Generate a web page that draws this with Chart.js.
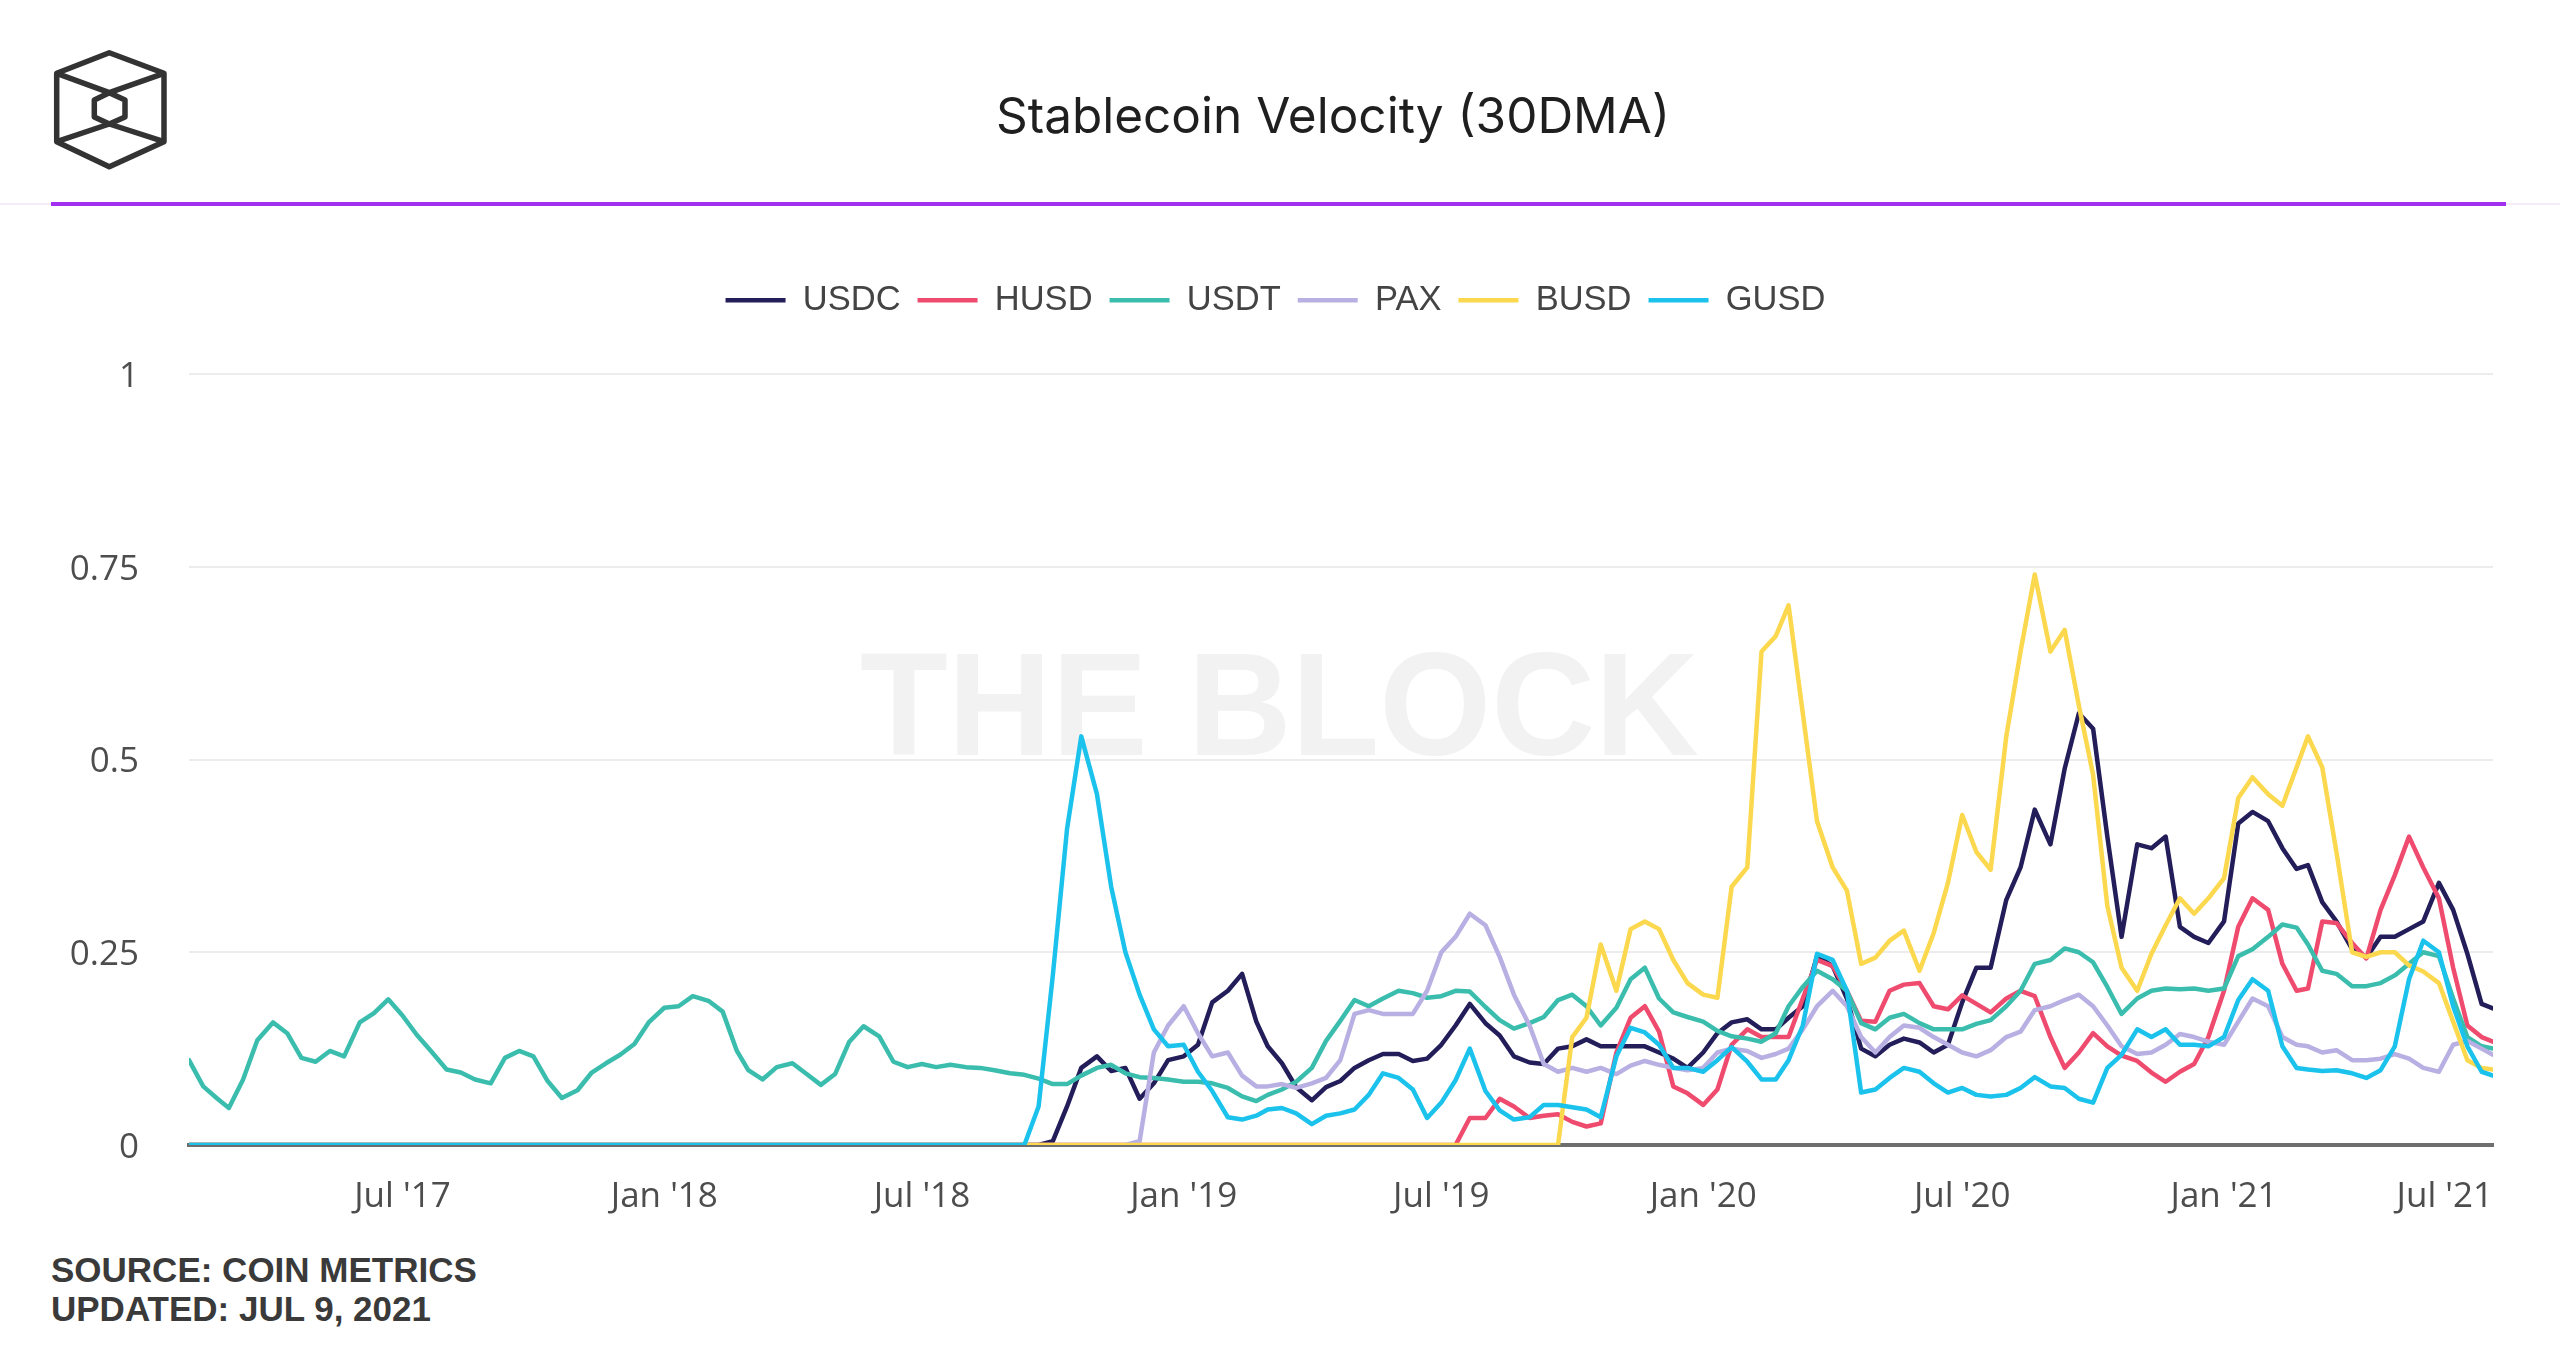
<!DOCTYPE html>
<html>
<head>
<meta charset="utf-8">
<script src="https://cdn.jsdelivr.net/npm/chart.js@4.4.1/dist/chart.umd.min.js"></script>
<style>
html,body{margin:0;padding:0;background:#fff;}
body{width:2560px;height:1345px;position:relative;overflow:hidden;}
#bg{position:absolute;left:0;top:0;}
#wrap{position:absolute;left:0;top:0;width:2560px;height:1345px;}
canvas{display:block;}
</style>
</head>
<body>
<svg id="bg" width="2560" height="1345" xmlns="http://www.w3.org/2000/svg">
  <g fill="none" stroke="#333" stroke-width="5.5" stroke-linejoin="round">
    <polygon points="109.3,52.7 164,73.3 164,141.7 109.3,166.7 56.7,141.7 56.7,73.3"/>
    <polyline points="56.7,73.3 109.3,92.7 164,73.3"/>
    <polyline points="56.7,141.7 109.3,124 164,141.7"/>
    <polygon points="109.3,92.7 125,100 125,117 109.3,124 94.3,117 94.3,100"/>
  </g>
  <text x="1333" y="133" text-anchor="middle" font-family="Inter, 'Noto Sans', sans-serif" font-size="49.5" fill="#1f1f1f">Stablecoin Velocity (30DMA)</text>
  <rect x="0" y="203" width="2560" height="2" fill="#f4ecf9"/>
  <rect x="51" y="202" width="2455" height="4" fill="#a330f0"/>
  <text x="860" y="755" font-family="'Liberation Sans', Arial, sans-serif" font-weight="bold" font-size="146" fill="#f2f2f2" textLength="839" lengthAdjust="spacingAndGlyphs">THE BLOCK</text>
  <text x="51" y="1282" font-family="'Liberation Sans', Arial, sans-serif" font-weight="bold" font-size="35" fill="#3a3a3a">SOURCE: COIN METRICS</text>
  <text x="51" y="1321" font-family="'Liberation Sans', Arial, sans-serif" font-weight="bold" font-size="35" fill="#3a3a3a">UPDATED: JUL 9, 2021</text>
</svg>
<div id="wrap"><canvas id="c" width="2560" height="1345" style="width:2560px;height:1345px"></canvas></div>
<script>
// ---- categories (x axis dates) ----
const dates = [
 '2017-02-01','2017-02-11','2017-02-21','2017-03-01','2017-03-11','2017-03-21','2017-04-01','2017-04-11','2017-04-21','2017-05-01','2017-05-11','2017-05-21',
 '2017-06-01','2017-06-11','2017-06-21','2017-07-01','2017-07-11','2017-07-21','2017-08-01','2017-08-11','2017-08-21','2017-09-01','2017-09-11','2017-09-21',
 '2017-10-01','2017-10-11','2017-10-21','2017-11-01','2017-11-11','2017-11-21','2017-12-01','2017-12-11','2017-12-21',
 '2018-01-01','2018-01-11','2018-01-21','2018-02-01','2018-02-11','2018-02-21','2018-03-01','2018-03-11','2018-03-21','2018-04-01','2018-04-11','2018-04-21',
 '2018-05-01','2018-05-11','2018-05-21','2018-06-01','2018-06-11','2018-06-21','2018-07-01','2018-07-11','2018-07-21','2018-08-01','2018-08-11','2018-08-21',
 '2018-09-01','2018-09-11','2018-09-21','2018-10-01','2018-10-11','2018-10-21','2018-11-01','2018-11-11','2018-11-21','2018-12-01','2018-12-11','2018-12-21',
 '2019-01-01','2019-01-11','2019-01-21','2019-02-01','2019-02-11','2019-02-21','2019-03-01','2019-03-11','2019-03-21','2019-04-01','2019-04-11','2019-04-21',
 '2019-05-01','2019-05-11','2019-05-21','2019-06-01','2019-06-11','2019-06-21','2019-07-01','2019-07-11','2019-07-21','2019-08-01','2019-08-11','2019-08-21',
 '2019-09-01','2019-09-11','2019-09-21','2019-10-01','2019-10-11','2019-10-21','2019-11-01','2019-11-11','2019-11-21','2019-12-01','2019-12-11','2019-12-21',
 '2020-01-01','2020-01-11','2020-01-21','2020-02-01','2020-02-11','2020-02-21','2020-03-01','2020-03-11','2020-03-21','2020-04-01','2020-04-11','2020-04-21',
 '2020-05-01','2020-05-11','2020-05-21','2020-06-01','2020-06-11','2020-06-21','2020-07-01','2020-07-11','2020-07-21','2020-08-01','2020-08-11','2020-08-21',
 '2020-09-01','2020-09-11','2020-09-21','2020-10-01','2020-10-11','2020-10-21','2020-11-01','2020-11-11','2020-11-21','2020-12-01','2020-12-11','2020-12-21',
 '2021-01-01','2021-01-11','2021-01-21','2021-02-01','2021-02-11','2021-02-21','2021-03-01','2021-03-11','2021-03-21','2021-04-01','2021-04-11','2021-04-21',
 '2021-05-01','2021-05-11','2021-05-21','2021-06-01','2021-06-11','2021-06-21','2021-07-01','2021-07-09'
];

// ---- series values (30DMA velocity) ----
const usdc = [
 0,0,0, 0,0,0, 0,0,0, 0,0,0, 0,0,0, 0,0,0, 0,0,0, 0,0,0, 0,0,0, 0,0,0, 0,0,0,
 0,0,0, 0,0,0, 0,0,0, 0,0,0, 0,0,0, 0,0,0, 0,0,0, 0,0,0, 0,0,0, 0.005,0.05,0.1, 0.115,0.096,0.1, 0.06,0.08,0.11,
 0.115,0.13,0.185, 0.2,0.222,0.16, 0.128,0.106,0.075, 0.058,0.075,0.083, 0.1,0.11,0.118, 0.118,0.109,0.112,
 0.13,0.155,0.183, 0.158,0.142,0.115, 0.107,0.105,0.125, 0.128,0.137,0.128, 0.128,0.128,0.128, 0.12,0.112,0.1,
 0.12,0.145,0.159, 0.163,0.15,0.15, 0.165,0.18,0.245, 0.232,0.19,0.125, 0.115,0.13,0.138, 0.133,0.12,0.13,
 0.185,0.23,0.23, 0.318,0.36,0.435, 0.39,0.488,0.56, 0.54,0.4,0.27, 0.39,0.385,0.4, 0.283,0.27,0.262,
 0.29,0.417,0.432, 0.42,0.385,0.358, 0.363,0.315,0.29, 0.254,0.243,0.27, 0.27,0.28,0.29, 0.34,0.305,0.248, 0.183,0.177
];
const husd = [
 0,0,0, 0,0,0, 0,0,0, 0,0,0, 0,0,0, 0,0,0, 0,0,0, 0,0,0, 0,0,0, 0,0,0, 0,0,0,
 0,0,0, 0,0,0, 0,0,0, 0,0,0, 0,0,0, 0,0,0, 0,0,0, 0,0,0, 0,0,0, 0,0,0, 0,0,0, 0,0,0,
 0,0,0, 0,0,0, 0,0,0, 0,0,0, 0,0,0, 0,0,0, 0,0,0.035, 0.035,0.06,0.05, 0.035,0.038,0.04, 0.03,0.024,0.028, 0.12,0.165,0.18, 0.147,0.076,0.067,
 0.052,0.072,0.13, 0.15,0.14,0.14, 0.14,0.19,0.24, 0.232,0.2,0.161, 0.16,0.2,0.208, 0.21,0.18,0.176,
 0.194,0.183,0.172, 0.19,0.2,0.193, 0.14,0.1,0.12, 0.145,0.128,0.116, 0.109,0.094,0.082, 0.095,0.105,0.14,
 0.2,0.283,0.32, 0.305,0.235,0.2, 0.203,0.29,0.288, 0.262,0.242,0.305, 0.35,0.4,0.36, 0.32,0.23,0.155, 0.14,0.134
];
const usdt = [
 0.11,0.076,0.06, 0.048,0.085,0.136, 0.159,0.145,0.113, 0.108,0.122,0.115, 0.159,0.171,0.189, 0.168,0.143,0.122,
 0.098,0.094,0.085, 0.08,0.113,0.122, 0.115,0.083,0.061, 0.071,0.094,0.106, 0.117,0.131,0.159,
 0.178,0.18,0.193, 0.187,0.173,0.122, 0.097,0.085,0.101, 0.106,0.092,0.078, 0.092,0.134,0.154, 0.141,0.108,0.101,
 0.105,0.101,0.104, 0.101,0.1,0.097, 0.093,0.091,0.086, 0.079,0.079,0.09, 0.1,0.104,0.093, 0.088,0.087,0.085,
 0.082,0.082,0.08, 0.074,0.063,0.057, 0.065,0.072,0.082, 0.1,0.135,0.161, 0.188,0.18,0.19, 0.2,0.197,0.191,
 0.193,0.2,0.199, 0.179,0.162,0.151, 0.158,0.166,0.188, 0.195,0.18,0.155, 0.178,0.215,0.23, 0.19,0.172,0.166,
 0.16,0.148,0.141, 0.138,0.134,0.145, 0.18,0.205,0.226, 0.215,0.2,0.158, 0.15,0.165,0.17, 0.158,0.15,0.15,
 0.15,0.157,0.162, 0.18,0.2,0.235, 0.24,0.255,0.25, 0.237,0.205,0.17, 0.19,0.2,0.203, 0.202,0.203,0.2,
 0.203,0.245,0.254, 0.27,0.286,0.282, 0.26,0.226,0.222, 0.206,0.206,0.21, 0.22,0.235,0.25, 0.245,0.19,0.14, 0.128,0.125
];
const pax = [
 0,0,0, 0,0,0, 0,0,0, 0,0,0, 0,0,0, 0,0,0, 0,0,0, 0,0,0, 0,0,0, 0,0,0, 0,0,0,
 0,0,0, 0,0,0, 0,0,0, 0,0,0, 0,0,0, 0,0,0, 0,0,0, 0,0,0, 0,0,0, 0,0,0, 0,0,0, 0.005,0.12,0.155,
 0.18,0.145,0.115, 0.12,0.09,0.076, 0.076,0.079,0.074, 0.08,0.087,0.11, 0.17,0.175,0.17, 0.17,0.17,0.2,
 0.25,0.27,0.3, 0.285,0.244,0.195, 0.155,0.105,0.095, 0.1,0.095,0.1, 0.092,0.103,0.109, 0.104,0.1,0.097,
 0.1,0.12,0.125, 0.122,0.113,0.118, 0.125,0.15,0.18, 0.2,0.18,0.14, 0.12,0.14,0.155, 0.152,0.14,0.13,
 0.12,0.115,0.123, 0.14,0.147,0.175, 0.18,0.188,0.195, 0.18,0.155,0.128, 0.118,0.12,0.13, 0.144,0.14,0.134,
 0.13,0.16,0.19, 0.18,0.14,0.13, 0.128,0.12,0.123, 0.11,0.11,0.112, 0.118,0.112,0.1, 0.095,0.13,0.135, 0.125,0.117
];
const busd = [
 0,0,0, 0,0,0, 0,0,0, 0,0,0, 0,0,0, 0,0,0, 0,0,0, 0,0,0, 0,0,0, 0,0,0, 0,0,0,
 0,0,0, 0,0,0, 0,0,0, 0,0,0, 0,0,0, 0,0,0, 0,0,0, 0,0,0, 0,0,0, 0,0,0, 0,0,0, 0,0,0,
 0,0,0, 0,0,0, 0,0,0, 0,0,0, 0,0,0, 0,0,0, 0,0,0, 0,0,0, 0,0,0, 0.14,0.165,0.26, 0.2,0.28,0.29, 0.28,0.24,0.21,
 0.195,0.191,0.335, 0.36,0.64,0.66, 0.7,0.56,0.42, 0.36,0.33,0.235, 0.243,0.265,0.278, 0.226,0.275,0.34,
 0.428,0.38,0.357, 0.53,0.64,0.74, 0.64,0.668,0.57, 0.48,0.31,0.23, 0.2,0.248,0.285, 0.32,0.3,0.32,
 0.346,0.45,0.477, 0.455,0.44,0.49, 0.53,0.49,0.38, 0.25,0.244,0.25, 0.25,0.233,0.225, 0.21,0.16,0.11, 0.1,0.098
];
const gusd = [
 0,0,0, 0,0,0, 0,0,0, 0,0,0, 0,0,0, 0,0,0, 0,0,0, 0,0,0, 0,0,0, 0,0,0, 0,0,0,
 0,0,0, 0,0,0, 0,0,0, 0,0,0, 0,0,0, 0,0,0, 0,0,0, 0,0,0, 0,0,0.05, 0.22,0.41,0.53, 0.455,0.335,0.25, 0.195,0.15,0.128,
 0.13,0.095,0.07, 0.036,0.033,0.038, 0.046,0.048,0.041, 0.027,0.038,0.041, 0.046,0.065,0.093, 0.087,0.072,0.035,
 0.055,0.084,0.125, 0.07,0.045,0.033, 0.036,0.052,0.052, 0.049,0.046,0.036, 0.115,0.152,0.146, 0.13,0.1,0.1,
 0.095,0.11,0.127, 0.108,0.085,0.085, 0.11,0.155,0.248, 0.24,0.2,0.068, 0.072,0.087,0.1, 0.095,0.08,0.068,
 0.074,0.065,0.063, 0.065,0.074,0.088, 0.076,0.074,0.06, 0.055,0.1,0.117, 0.15,0.14,0.15, 0.13,0.13,0.128,
 0.14,0.188,0.215, 0.2,0.128,0.1, 0.098,0.096,0.097, 0.093,0.087,0.097, 0.128,0.215,0.265, 0.25,0.18,0.128, 0.095,0.09
];

const seriesNames  = ['USDC', 'HUSD', 'USDT', 'PAX', 'BUSD', 'GUSD'];
const seriesColors = ['#231d5a', '#ef4b6e', '#3bbdae', '#b8b0e3', '#fbd84d', '#1ac2ec'];
const seriesValues = [usdc, husd, usdt, pax, busd, gusd];

// ---- tick labels ----
const xTickDates  = ['2017-02-01', '2017-07-01', '2018-01-01', '2018-07-01', '2019-01-01', '2019-07-01', '2020-01-01', '2020-07-01', '2021-01-01', '2021-07-09'];
const xTickLabels = ['', "Jul '17", "Jan '18", "Jul '18", "Jan '19", "Jul '19", "Jan '20", "Jul '20", "Jan '21", "Jul '21"];
const yTicks      = [0, 0.25, 0.5, 0.75, 1];
const yTickLabels = ['0', '0.25', '0.5', '0.75', '1'];

const toDay = s => Date.UTC(+s.slice(0, 4), +s.slice(5, 7) - 1, +s.slice(8, 10)) / 86400000;

const tickFont = { family: "'Open Sans', 'DejaVu Sans', sans-serif", size: 35 };

new Chart(document.getElementById('c'), {
  type: 'line',
  data: {
    labels: dates.map(toDay),
    datasets: seriesNames.map((name, i) => ({
      label: name,
      data: seriesValues[i],
      borderColor: seriesColors[i],
      backgroundColor: seriesColors[i],
      borderWidth: 4.5,
      pointRadius: 0,
      pointHoverRadius: 0,
      tension: 0,
      fill: false,
      borderCapStyle: 'round',
      borderJoinStyle: 'round',
      order: seriesNames.length - 1 - i
    }))
  },
  options: {
    responsive: false,
    animation: false,
    devicePixelRatio: 1,
    layout: { padding: { top: 266, left: 58, right: 67, bottom: 0 } },
    plugins: {
      title: { display: false },
      tooltip: { enabled: false },
      legend: {
        position: 'top',
        align: 'center',
        labels: {
          usePointStyle: true,
          pointStyle: 'line',
          pointStyleWidth: 60,
          boxHeight: 5,
          padding: 17,
          color: '#444',
          font: { family: "'Liberation Sans', Arial, sans-serif", size: 34.5 },
          sort: (a, b) => a.datasetIndex - b.datasetIndex
        }
      }
    },
    scales: {
      x: {
        type: 'linear',
        min: toDay(dates[0]),
        max: toDay(dates[dates.length - 1]),
        grid: { display: false, drawTicks: false },
        border: { display: true, color: '#6e6e6e', width: 4 },
        afterBuildTicks: s => { s.ticks = xTickDates.map(d => ({ value: toDay(d) })); },
        afterFit: s => { s.height = 200; },
        ticks: {
          autoSkip: false,
          maxRotation: 0,
          minRotation: 0,
          align: 'inner',
          padding: 31,
          color: '#4d4d4d',
          font: tickFont,
          callback: (v, i) => xTickLabels[i]
        }
      },
      y: {
        min: 0,
        max: 1,
        grid: { color: '#ececec', lineWidth: 2, drawTicks: false },
        border: { display: false },
        afterBuildTicks: s => { s.ticks = yTicks.map(v => ({ value: v })); },
        afterFit: s => { s.width = 131; },
        ticks: {
          padding: 50,
          labelOffset: 3,
          color: '#4d4d4d',
          font: tickFont,
          callback: (v, i) => yTickLabels[i]
        }
      }
    }
  },
  plugins: [{
    id: 'legendGap',
    beforeInit(chart) {
      const fit = chart.legend.fit;
      chart.legend.fit = function () { fit.call(this); this.height = 108; };
    }
  }]
});
</script>
</body>
</html>
